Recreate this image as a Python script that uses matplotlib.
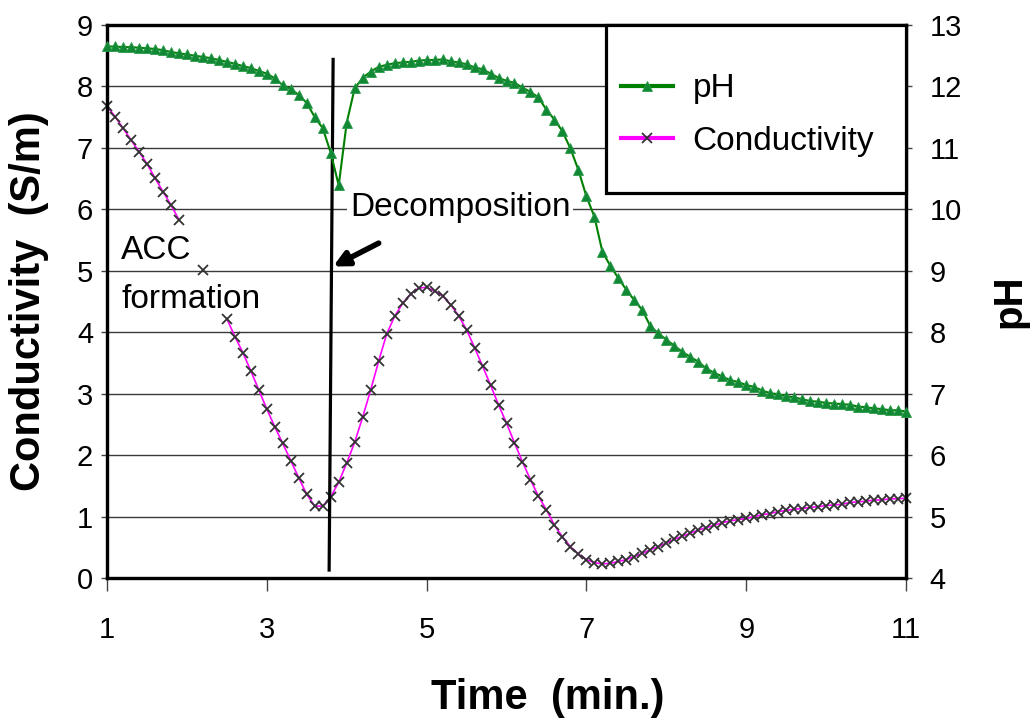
import matplotlib
matplotlib.use('Agg')
import matplotlib.pyplot as plt
from matplotlib.patches import Rectangle
import numpy as np

plt.rcParams['font.family'] = ['Liberation Sans', 'DejaVu Sans']

# time axis, one reading every 0.1 min
time = np.round(np.arange(1.0, 11.01, 0.1), 1)

# pH readings (right axis)
ph = [12.65, 12.65, 12.64, 12.64, 12.63, 12.62, 12.61, 12.59, 12.56, 12.54,
      12.52, 12.50, 12.48, 12.46, 12.43, 12.40, 12.37, 12.33, 12.30, 12.25,
      12.21, 12.13, 12.02, 11.96, 11.86, 11.73, 11.50, 11.32, 10.92, 10.39,
      11.41, 11.97, 12.14, 12.24, 12.32, 12.35, 12.38, 12.39, 12.40, 12.42,
      12.43, 12.43, 12.44, 12.41, 12.39, 12.36, 12.31, 12.28, 12.21, 12.14,
      12.09, 12.06, 11.98, 11.91, 11.82, 11.62, 11.46, 11.27, 10.99, 10.64,
      10.21, 9.88, 9.31, 9.08, 8.88, 8.69, 8.52, 8.36, 8.10, 7.98,
      7.88, 7.78, 7.68, 7.60, 7.52, 7.41, 7.34, 7.28, 7.22, 7.19,
      7.14, 7.11, 7.05, 7.01, 6.99, 6.96, 6.94, 6.91, 6.88, 6.87,
      6.85, 6.84, 6.83, 6.82, 6.79, 6.78, 6.76, 6.75, 6.73, 6.73,
      6.71]

# conductivity readings in S/m (left axis); gaps where no reading was taken
nan = np.nan
cond = [7.68, 7.51, 7.32, 7.13, 6.94, 6.74, 6.51, 6.29, 6.07, 5.83,
        nan, nan, 5.02, nan, nan, 4.22, 3.93, 3.67, 3.37, 3.06,
        2.75, 2.46, 2.19, 1.91, 1.63, 1.36, 1.17, 1.17, 1.32, 1.56,
        1.87, 2.21, 2.62, 3.06, 3.53, 3.97, 4.26, 4.47, 4.62, 4.72,
        4.73, 4.67, 4.59, 4.45, 4.27, 4.04, 3.75, 3.45, 3.14, 2.82,
        2.52, 2.20, 1.89, 1.60, 1.33, 1.11, 0.86, 0.67, 0.51, 0.39,
        0.30, 0.25, 0.23, 0.24, 0.27, 0.30, 0.35, 0.40, 0.46, 0.51,
        0.57, 0.63, 0.68, 0.73, 0.78, 0.82, 0.86, 0.90, 0.93, 0.95,
        0.97, 1.00, 1.03, 1.05, 1.08, 1.10, 1.12, 1.13, 1.15, 1.16,
        1.18, 1.19, 1.20, 1.23, 1.24, 1.25, 1.27, 1.27, 1.29, 1.29,
        1.30]

x_ticks = [1, 3, 5, 7, 9, 11]
cond_ticks = list(range(0, 10))
ph_ticks = list(range(4, 14))

fig = plt.figure(figsize=(10.3, 7.22), dpi=100)
ax = fig.add_axes([0.1039, 0.1994, 0.7757, 0.766])
ax2 = ax.twinx()

ax.set_xlim(1, 11)
ax.set_ylim(0, 9)
ax2.set_ylim(4, 13)
ax.set_xticks(x_ticks)
ax.set_yticks(cond_ticks)
ax2.set_yticks(ph_ticks)

ax.grid(axis='y', color='#3a3a3a', lw=1.0)
ax.set_axisbelow(True)

for a in (ax, ax2):
    for s in a.spines.values():
        s.set_linewidth(2.3)
        s.set_color('black')

ax.tick_params(axis='x', length=9, width=1, direction='out', pad=18,
               labelsize=21, color='#444444')
ax.tick_params(axis='y', length=4, width=1, direction='out', pad=6,
               labelsize=21, color='#444444')
ax2.tick_params(axis='y', length=4, width=1, direction='out', pad=13,
                labelsize=21, color='#444444')

l_cond, = ax.plot(time, cond, color='#ff00ff', lw=1.2, marker='x', ms=7,
                  mec='#333333', mew=1.3, clip_on=False, zorder=3,
                  label='Conductivity')
l_ph, = ax2.plot(time, ph, color='#008000', lw=1.5, marker='^', ms=7,
                 mfc='#118833', mec='#2a9a4a', mew=0.6, clip_on=False,
                 zorder=3, label='pH')

# decomposition marker line and arrow
ax.plot([3.83, 3.78], [8.44, 0.13], color='black', lw=2.3, zorder=6)
ax.annotate('', xy=(3.83, 5.07), xytext=(4.40, 5.45),
            arrowprops=dict(arrowstyle='-|>', color='black', lw=4,
                            mutation_scale=22, shrinkA=0, shrinkB=0),
            zorder=6)
ax.text(4.04, 6.03, 'Decomposition', fontsize=24, va='center', ha='left',
        bbox=dict(facecolor='white', edgecolor='none', pad=2), zorder=5)
ax.text(1.18, 5.19, 'ACC', fontsize=24, va='baseline', ha='left', zorder=5)
ax.text(1.18, 4.39, 'formation', fontsize=24, va='baseline', ha='left',
        zorder=5)

ax.set_xlabel('Time  (min.)', fontsize=30, fontweight='bold')
ax.xaxis.set_label_coords(0.551, -0.18)
ax.set_ylabel('Conductivity  (S/m)', fontsize=30, fontweight='bold')
ax.yaxis.set_label_coords(-0.072, 0.5)
ax2.set_ylabel('pH', fontsize=29, fontweight='bold', rotation=90)
ax2.yaxis.set_label_coords(1.106, 0.5)

# legend box
frame = Rectangle((0.6245, 0.696), 0.3755, 0.304, transform=ax2.transAxes,
                  facecolor='white', edgecolor='black', lw=2.3, zorder=7,
                  clip_on=False)
ax2.add_patch(frame)
leg = ax2.legend([l_ph, l_cond], ['pH', 'Conductivity'], loc='center left',
                 bbox_to_anchor=(0.6433, 0.837), frameon=False, fontsize=24,
                 borderpad=0, borderaxespad=0, handlelength=1.55,
                 handletextpad=0.6, labelspacing=0.65)
leg.set_zorder(8)
for h in leg.legend_handles:
    h.set_linewidth(3)

fig.savefig('out.png', dpi=100)
